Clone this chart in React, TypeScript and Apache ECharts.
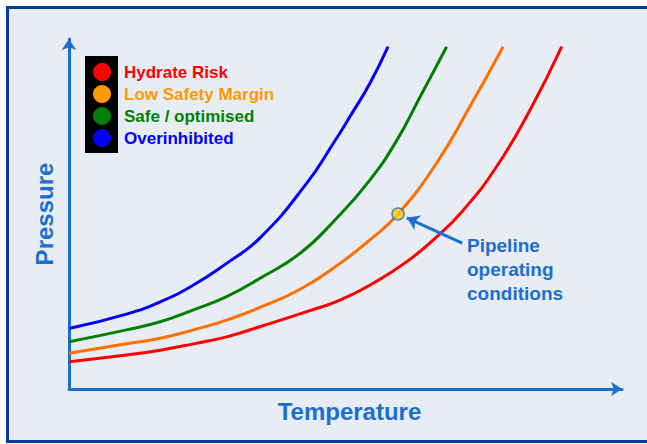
import React, { useEffect, useRef } from "react";
import * as echarts from "echarts";

// Temperature / pressure curves (arbitrary units, 0-100)
const blueT = [0, 10.4, 16.5, 22.5, 28.5, 34.5, 43.0, 47.8, 51.1, 54.4, 57.7];
const blueP = [17.3, 21.4, 24.9, 29.7, 35.9, 43.1, 58.8, 70.2, 78.6, 87.3, 97.8];
const greenT = [0, 10.4, 16.5, 22.5, 28.5, 34.5, 41.8, 48.1, 54.4, 59.3, 63.5, 68.3];
const greenP = [13.5, 16.9, 19.2, 22.6, 26.4, 31.6, 38.8, 48.3, 59.7, 71.1, 83.5, 97.8];
const orangeT = [0, 10.4, 16.5, 22.5, 28.5, 34.5, 41.8, 49.0, 54.4, 59.5, 66.5, 72.5, 78.5];
const orangeP = [10.2, 12.9, 14.5, 16.9, 19.7, 23.3, 28.5, 35.9, 42.6, 50, 64.6, 80.7, 97.8];
const redT = [0, 10.4, 16.5, 22.5, 28.5, 34.5, 43.0, 49.0, 55.0, 61.1, 65.9, 71.3, 77.3, 83.4, 89.1];
const redP = [7.8, 9.7, 11.1, 12.9, 14.9, 17.8, 22.1, 25.4, 30.2, 36.4, 42.6, 51.1, 63.5, 79.8, 97.8];

const legendLabels = ["Hydrate Risk", "Low Safety Margin", "Safe / optimised", "Overinhibited"];
const legendColors = ["#ff0000", "#ff9900", "#008000", "#0000ff"];

const operatingPoint = [59.5, 50];
const arrowFrom = [71.1, 41.7];
const arrowTo = [61.1, 48.9];
const annotationText = "Pipeline\noperating\nconditions";

const AXIS = "#1a6fd0";

function zip(a: number[], b: number[]) {
  return a.map((v, i) => [v, b[i]]);
}

export default function App() {
  const ref = useRef<HTMLDivElement>(null);
  useEffect(() => {
    if (!ref.current) return;
    const chart = echarts.init(ref.current, null, { renderer: "svg" });
    const lineSeries = (name: string, data: number[][], color: string) => ({
      type: "line",
      name,
      data,
      smooth: 0.5,
      showSymbol: false,
      symbol: "none",
      lineStyle: { color, width: 3 },
      z: 3,
    });
    const legendGraphics: any[] = [
      { type: "rect", shape: { x: 85, y: 56, width: 33, height: 97 }, style: { fill: "#000" }, z: 5 },
    ];
    legendLabels.forEach((lab, i) => {
      const cy = 72 + i * 22;
      legendGraphics.push({
        type: "circle",
        shape: { cx: 102, cy, r: 9 },
        style: { fill: legendColors[i] },
        z: 6,
      });
      legendGraphics.push({
        type: "text",
        x: 124,
        y: cy + 0.5,
        style: {
          text: lab,
          fill: legendColors[i],
          font: "bold 17px 'Liberation Sans', Arial, sans-serif",
          textVerticalAlign: "middle",
          textAlign: "left",
        },
        z: 6,
      });
    });
    chart.setOption({
      animation: false,
      backgroundColor: "#ffffff",
      grid: { left: 69, right: 25, top: 39, bottom: 55, containLabel: false, outerBoundsMode: "none" },
      xAxis: {
        type: "value",
        min: 0,
        max: 100,
        name: "Temperature",
        nameLocation: "middle",
        nameGap: 10,
        nameTextStyle: {
          color: AXIS,
          fontSize: 24,
          fontWeight: "bold",
          fontFamily: "'Liberation Sans', Arial, sans-serif",
          verticalAlign: "top",
          padding: [0, 0, 0, 8],
        },
        axisLine: {
          show: true,
          onZero: false,
          symbol: ["none", "arrow"],
          symbolSize: [11, 11],
          lineStyle: { color: AXIS, width: 3 },
        },
        axisTick: { show: false },
        axisLabel: { show: false },
        splitLine: { show: false },
      },
      yAxis: {
        type: "value",
        min: 0,
        max: 100,
        name: "Pressure",
        nameLocation: "middle",
        nameRotate: 90,
        nameGap: 13,
        nameTextStyle: {
          color: AXIS,
          fontSize: 24,
          fontWeight: "bold",
          fontFamily: "'Liberation Sans', Arial, sans-serif",
          verticalAlign: "bottom",
        },
        axisLine: {
          show: true,
          onZero: false,
          symbol: ["none", "arrow"],
          symbolSize: [11, 11],
          lineStyle: { color: AXIS, width: 3 },
        },
        axisTick: { show: false },
        axisLabel: { show: false },
        splitLine: { show: false },
      },
      series: [
        lineSeries("Overinhibited", zip(blueT, blueP), "#0000ff"),
        lineSeries("Safe / optimised", zip(greenT, greenP), "#008000"),
        lineSeries("Low Safety Margin", zip(orangeT, orangeP), "#ff6f00"),
        lineSeries("Hydrate Risk", zip(redT, redP), "#ff0000"),
        {
          type: "scatter",
          name: "Pipeline operating conditions",
          data: [operatingPoint],
          symbol: "circle",
          symbolSize: 12,
          itemStyle: { color: "#ffcc00", borderColor: AXIS, borderWidth: 1.5 },
          z: 5,
          markLine: {
            silent: true,
            symbol: ["none", "arrow"],
            symbolSize: [12, 12],
            label: { show: false },
            lineStyle: { color: AXIS, width: 3, type: "solid" },
            data: [[{ coord: arrowFrom }, { coord: arrowTo }]],
          },
        },
      ],
      graphic: [
        {
          type: "rect",
          shape: { x: 7.5, y: 7.5, width: 720, height: 434 },
          style: { fill: "#e8edf5" },
          z: -10,
          silent: true,
        },
        {
          type: "polyline",
          shape: { points: [[720, 7.5], [7.5, 7.5], [7.5, 441.5], [720, 441.5]] },
          style: { stroke: "#0a3a9a", lineWidth: 3, fill: "none" },
          z: -9,
          silent: true,
        },
        ...legendGraphics,
        {
          type: "text",
          x: 467,
          y: 233,
          style: {
            text: annotationText,
            fill: AXIS,
            font: "bold 19px 'Liberation Sans', Arial, sans-serif",
            lineHeight: 24,
            textAlign: "left",
            textVerticalAlign: "top",
          },
          z: 6,
        },
      ],
    });
    return () => chart.dispose();
  }, []);
  return <div ref={ref} style={{ width: 647, height: 444, position: "absolute", left: 0, top: 0 }} />;
}
